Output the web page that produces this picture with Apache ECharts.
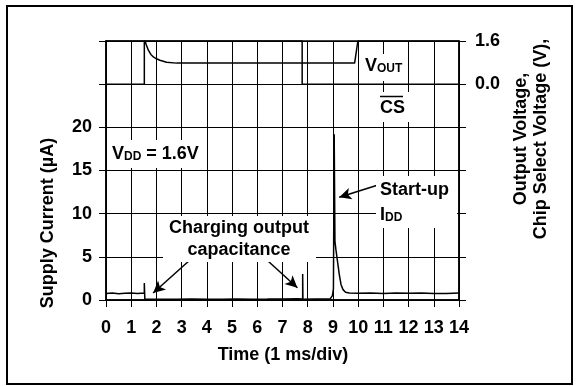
<!DOCTYPE html>
<html>
<head>
<meta charset="utf-8">
<script src="https://cdn.jsdelivr.net/npm/echarts/dist/echarts.min.js"></script>
<style>
  html, body { margin: 0; padding: 0; background: #fff; }
  #chart { width: 576px; height: 386px; }
</style>
</head>
<body>
<div id="chart"></div>
<script>
// Time axis (ms) and supply current trace (µA)
const currentTime = [0, 0.25, 0.5, 0.75, 1.0, 1.25, 1.52, 1.52, 1.54, 1.6, 2.2, 2.8, 3.4, 4.0, 4.6, 5.2, 5.8, 6.4, 7.0, 7.6, 7.8, 7.8, 7.81, 8.3, 8.9, 8.98, 9.02, 9.05, 9.05, 9.07, 9.08, 9.12, 9.18, 9.25, 9.32, 9.4, 9.5, 9.65, 10.0, 10.5, 11.0, 11.5, 12.0, 12.5, 13.0, 13.5, 14.0];
const currentUA   = [0.75, 0.8, 0.72, 0.78, 0.82, 0.76, 0.8, 1.96, 0.08, 0.05, 0.1, 0.08, 0.12, 0.1, 0.09, 0.12, 0.1, 0.11, 0.13, 0.15, 0.12, 3.0, 0.1, 0.12, 0.15, 0.5, 1.3, 1.5, 19.2, 19.2, 6.8, 5.8, 4.5, 3.0, 1.8, 1.2, 0.9, 0.8, 0.78, 0.8, 0.75, 0.82, 0.77, 0.8, 0.74, 0.76, 0.8];

// Chip select (V)
const csTime = [0, 1.52, 1.52, 7.78, 7.78, 14];
const csVolt = [0, 0, 1.6, 1.6, 0, 0];

// Output voltage (V)
const voutTime = [0, 1.55, 1.6, 1.68, 1.78, 1.88, 2.0, 2.14, 2.4, 2.8, 9.86, 9.99, 14];
const voutVolt = [1.6, 1.6, 1.45, 1.26, 1.1, 1.01, 0.94, 0.885, 0.81, 0.78, 0.78, 1.6, 1.6];

// Axis ticks
const timeTicks = { min: 0, max: 14, interval: 1 };
const currentTicks = { min: 0, max: 30, interval: 5, lastLabel: 20 };
const voltTicks = { min: -8, max: 1.6, interval: 1.6 };

// Annotation arrows: [fromTime, fromCurrent, toTime, toCurrent]
const arrowLines = [
  [3.33, 4.63, 1.87, 0.81],
  [6.38, 4.63, 7.59, 1.42],
  [10.79, 13.32, 9.25, 11.9]
];

const zip = (a, b) => a.map((v, i) => [v, b[i]]);
const FONT = '"Liberation Sans", Arial, Helvetica, sans-serif';

const richMain = { fontSize: 18, fontWeight: 'bold', fontFamily: FONT, lineHeight: 18, fill: '#000', color: '#000' };
const richSub = { fontSize: 12, fontWeight: 'bold', fontFamily: FONT, lineHeight: 12, verticalAlign: 'bottom', fill: '#000', color: '#000' };

function whiteBox(x, y, w, h) {
  return { type: 'rect', z: 100, silent: true, shape: { x, y, width: w, height: h }, style: { fill: '#fff' } };
}
function label(text, x, y, align, rotation) {
  return {
    type: 'text', z: 101, silent: true, x, y, rotation: rotation || 0,
    style: {
      text, fill: '#000', font: 'bold 18px ' + FONT,
      align: align || 'left', verticalAlign: 'middle',
      rich: { m: richMain, s: richSub }
    }
  };
}

const chart = echarts.init(document.getElementById('chart'), null, { renderer: 'canvas' });

const axisText = { color: '#000', fontSize: 18, fontWeight: 'bold', fontFamily: FONT };

chart.setOption({
  animation: false,
  backgroundColor: '#fff',
  grid: { left: 106, right: 117, top: 41, bottom: 86, show: true, borderColor: '#000', borderWidth: 1.5 },
  xAxis: {
    type: 'value', min: timeTicks.min, max: timeTicks.max, interval: timeTicks.interval,
    axisLine: { lineStyle: { color: '#000', width: 1.5 } },
    axisTick: { length: 7, lineStyle: { color: '#000', width: 1 } },
    axisLabel: Object.assign({ margin: 19 }, axisText),
    splitLine: { show: true, lineStyle: { color: '#000', width: 1 } }
  },
  yAxis: [
    {
      type: 'value', min: currentTicks.min, max: currentTicks.max, interval: currentTicks.interval,
      axisLine: { show: true, lineStyle: { color: '#000', width: 1.5 } },
      axisTick: { show: true, length: 7, lineStyle: { color: '#000', width: 1 } },
      axisLabel: Object.assign({ margin: 14, formatter: v => (v <= currentTicks.lastLabel ? String(v) : '') }, axisText),
      splitLine: { show: true, lineStyle: { color: '#000', width: 1 } }
    },
    {
      type: 'value', position: 'right', min: voltTicks.min, max: voltTicks.max, interval: voltTicks.interval,
      axisLine: { show: true, lineStyle: { color: '#000', width: 1.5 } },
      axisTick: { show: true, length: 7, lineStyle: { color: '#000', width: 1 } },
      axisLabel: Object.assign({ margin: 16, formatter: v => (v >= -1e-9 ? Math.abs(v).toFixed(1) : '') }, axisText),
      splitLine: { show: false }
    }
  ],
  series: [
    {
      name: 'IDD', type: 'line', yAxisIndex: 0, data: zip(currentTime, currentUA),
      showSymbol: false, symbol: 'none', lineStyle: { color: '#000', width: 1.5 }, z: 3,
      markLine: {
        silent: true, symbol: ['none', 'arrow'], symbolSize: [9, 12],
        label: { show: false },
        lineStyle: { color: '#000', width: 1.5, type: 'solid' },
        data: arrowLines.map(a => [{ coord: [a[0], a[1]] }, { coord: [a[2], a[3]] }])
      }
    },
    {
      name: 'CS', type: 'line', yAxisIndex: 1, data: zip(csTime, csVolt),
      showSymbol: false, symbol: 'none', lineStyle: { color: '#000', width: 1.5 }, z: 3
    },
    {
      name: 'VOUT', type: 'line', yAxisIndex: 1, data: zip(voutTime, voutVolt),
      showSymbol: false, symbol: 'none', lineStyle: { color: '#000', width: 1.5 }, z: 3
    }
  ],
  graphic: [
    // outer frame
    { type: 'rect', z: 100, silent: true, shape: { x: 7, y: 6, width: 565, height: 378 }, style: { fill: 'none', stroke: '#000', lineWidth: 2 } },

    // axis titles
    label('Time (1 ms/div)', 283, 355, 'center'),
    label('Supply Current (µA)', 48, 223, 'center', Math.PI / 2),
    label('Output Voltage,', 521, 139, 'center', Math.PI / 2),
    label('Chip Select Voltage (V),', 541, 139, 'center', Math.PI / 2),

    // VDD note
    whiteBox(108, 140, 99, 28),
    label('{m|V}{s|DD}{m| = 1.6V}', 112, 154, 'left'),

    // charging note
    whiteBox(163, 216, 153, 46),
    label('Charging output', 239, 228, 'center'),
    label('capacitance', 239, 250, 'center'),

    // start-up note
    whiteBox(376, 176, 81, 52),
    label('Start-up', 380, 190, 'left'),
    label('{m|I}{s|DD}', 380, 215, 'left'),

    // VOUT tag
    whiteBox(362, 54, 43, 27),
    label('{m|V}{s|OUT}', 365, 66, 'left'),

    // CS tag with overline
    whiteBox(377, 92, 33, 30),
    label('CS', 380, 108, 'left'),
    { type: 'line', z: 102, silent: true, shape: { x1: 380, y1: 96.5, x2: 403, y2: 96.5 }, style: { stroke: '#000', lineWidth: 1.5 } }
  ]
});
</script>
</body>
</html>
